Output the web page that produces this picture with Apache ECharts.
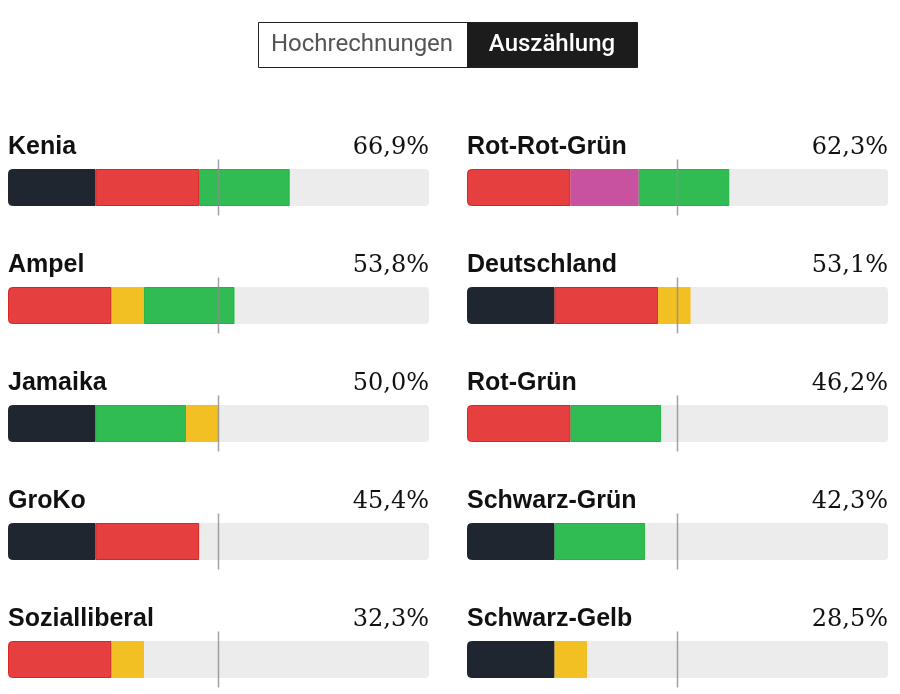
<!DOCTYPE html>
<html><head><meta charset="utf-8">
<script src="https://cdn.jsdelivr.net/npm/echarts@6/dist/echarts.min.js"></script>
<style>html,body{margin:0;padding:0;background:#fff}#c{width:900px;height:694px}</style>
</head><body><div id="c"></div>
<script>
// ---- data ----
const partyNames  = ['Union', 'SPD', 'Grüne', 'FDP', 'Linke'];
const partyShares = [20.8, 24.6, 21.5, 7.7, 16.2];
const leftCoalitions  = ['Kenia', 'Ampel', 'Jamaika', 'GroKo', 'Sozialliberal'];
const leftParties     = [['Union','SPD','Grüne'], ['SPD','FDP','Grüne'], ['Union','Grüne','FDP'], ['Union','SPD'], ['SPD','FDP']];
const leftTotals      = [66.9, 53.8, 50.0, 45.4, 32.3];
const rightCoalitions = ['Rot-Rot-Grün', 'Deutschland', 'Rot-Grün', 'Schwarz-Grün', 'Schwarz-Gelb'];
const rightParties    = [['SPD','Linke','Grüne'], ['Union','SPD','FDP'], ['SPD','Grüne'], ['Union','Grüne'], ['Union','FDP']];
const rightTotals     = [62.3, 53.1, 46.2, 42.3, 28.5];
const majority = 50;
const toggleLabels = ['Hochrechnungen', 'Auszählung'];

// ---- styles ----
const partyColors = {Union:'#1f2630', SPD:'#e53f3f', 'Grüne':'#30bc52', FDP:'#f2c023', Linke:'#c952a0'};
const partyBorders = {Union:'#1f2630', SPD:'#d92525', 'Grüne':'#22b542', FDP:'#f2c023', Linke:'#c952a0'};
const BAR_W = 37;

function share(p){ return partyShares[partyNames.indexOf(p)]; }
function fmt(v){ return v.toFixed(1).replace('.', ',') + '%'; }

const grids = [], xAxes = [], yAxes = [], series = [];
[[leftCoalitions, leftParties, leftTotals, 8], [rightCoalitions, rightParties, rightTotals, 467]].forEach((col, gi) => {
  const [names, parties, totals, left] = col;
  grids.push({left: left, width: 421, top: 187.5, height: 472});
  xAxes.push({gridIndex: gi, type: 'value', min: 0, max: 100, show: false});
  yAxes.push({gridIndex: gi, type: 'category', data: names, inverse: true, show: false, boundaryGap: false});
  series.push({
    type: 'bar', xAxisIndex: gi, yAxisIndex: gi, barWidth: BAR_W, barGap: '-100%', silent: true, clip: false,
    data: names.map(() => 100),
    itemStyle: {color: '#ececec', borderRadius: 4},
    label: {show: true, position: [0, -22], align: 'left', verticalAlign: 'middle',
      formatter: p => names[p.dataIndex], fontFamily: '"Liberation Sans", Arial, sans-serif',
      fontWeight: 'bold', fontSize: 25, color: '#111'}
  });
  series.push({
    type: 'bar', xAxisIndex: gi, yAxisIndex: gi, barWidth: BAR_W, barGap: '-100%', silent: true, clip: false,
    data: names.map(() => 100),
    itemStyle: {color: 'rgba(0,0,0,0)'},
    label: {show: true, position: ['100%', -21], align: 'right', verticalAlign: 'middle',
      formatter: p => fmt(totals[p.dataIndex]), fontFamily: '"DejaVu Serif", serif',
      fontSize: 24, color: '#111'}
  });
  for (let k = 0; k < 3; k++) {
    series.push({
      type: 'bar', xAxisIndex: gi, yAxisIndex: gi, barWidth: BAR_W, barGap: '-100%', stack: 's' + gi, silent: true, clip: false,
      data: parties.map(ps => ps[k] ? {
        value: share(ps[k]),
        itemStyle: {color: partyColors[ps[k]], borderColor: partyBorders[ps[k]], borderWidth: 1,
          borderRadius: k === 0 ? [4, 0, 0, 4] : 0}
      } : '-')
    });
  }
  series.push({
    type: 'scatter', xAxisIndex: gi, yAxisIndex: gi, silent: true, z: 10, clip: false,
    symbol: 'rect', symbolSize: [1.5, 56],
    itemStyle: {color: '#8c8c8c'},
    data: names.map((n, i) => [majority, i])
  });
});

const chart = echarts.init(document.getElementById('c'), null, {renderer: 'canvas'});
chart.setOption({
  animation: false,
  grid: grids, xAxis: xAxes, yAxis: yAxes, series: series,
  graphic: [
    {type: 'rect', shape: {x: 258.5, y: 22.5, width: 379, height: 45}, style: {fill: '#fff', stroke: '#222', lineWidth: 1}},
    {type: 'rect', shape: {x: 467, y: 22.5, width: 170.5, height: 45}, style: {fill: '#1c1c1c'}},
    {type: 'text', x: 362, y: 45, style: {text: toggleLabels[0], fill: '#555', font: '24px Roboto, sans-serif', align: 'center', verticalAlign: 'middle'}},
    {type: 'text', x: 552, y: 45, style: {text: toggleLabels[1], fill: '#fff', font: '500 24px Roboto, sans-serif', align: 'center', verticalAlign: 'middle'}}
  ]
});
</script></body></html>
